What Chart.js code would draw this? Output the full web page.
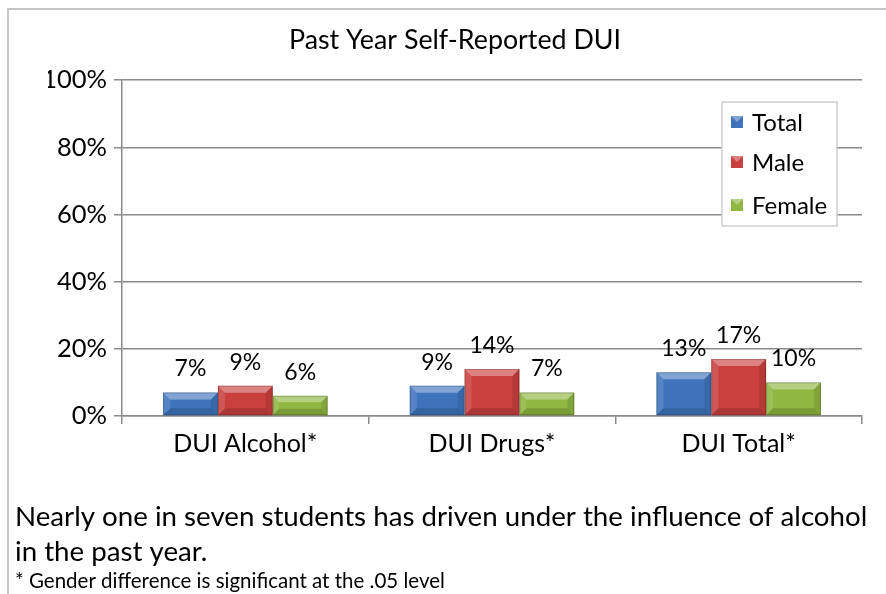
<!DOCTYPE html>
<html><head><meta charset="utf-8">
<script src="https://cdn.jsdelivr.net/npm/chart.js@4/dist/chart.umd.min.js"></script>
<style>html,body{margin:0;padding:0;background:#fff;}#wrap{width:886px;height:594px;position:relative;}</style>
</head><body><div id="wrap"><canvas id="c" width="886" height="594"></canvas></div>
<script>
const categories = ["DUI Alcohol*", "DUI Drugs*", "DUI Total*"];
const totalValues = [0.07, 0.09, 0.13];
const maleValues = [0.09, 0.14, 0.17];
const femaleValues = [0.06, 0.07, 0.10];
const seriesNames = ["Total", "Male", "Female"];
const yTicks = [0, 0.2, 0.4, 0.6, 0.8, 1.0];
const titleText = "Past Year Self-Reported DUI";
const captionLines = ["Nearly one in seven students has driven under the influence of alcohol", "in the past year."];
const footnoteText = "* Gender difference is significant at the .05 level";

const FONT = "Lato, 'Liberation Sans', sans-serif";
const colors = ["#3f74bd", "#c9403e", "#8fb741"];

const bevelPlugin = {
  id: 'bevel',
  afterDatasetsDraw(chart) {
    const ctx = chart.ctx;
    chart.data.datasets.forEach((ds, di) => {
      const meta = chart.getDatasetMeta(di);
      meta.data.forEach(el => {
        const w = el.width, l = el.x - w/2, r = el.x + w/2, t = el.y, b = el.base;
        const h = b - t; const bv = Math.min(7, h/3);
        ctx.save();
        ctx.fillStyle = 'rgba(255,255,255,0.35)';
        ctx.beginPath(); ctx.moveTo(l,t); ctx.lineTo(r,t); ctx.lineTo(r-bv,t+bv); ctx.lineTo(l+bv,t+bv); ctx.closePath(); ctx.fill();
        ctx.fillStyle = 'rgba(255,255,255,0.12)';
        ctx.beginPath(); ctx.moveTo(l,t); ctx.lineTo(l+bv,t+bv); ctx.lineTo(l+bv,b-bv); ctx.lineTo(l,b); ctx.closePath(); ctx.fill();
        ctx.fillStyle = 'rgba(0,0,0,0.10)';
        ctx.beginPath(); ctx.moveTo(r,t); ctx.lineTo(r-bv,t+bv); ctx.lineTo(r-bv,b-bv); ctx.lineTo(r,b); ctx.closePath(); ctx.fill();
        ctx.fillStyle = 'rgba(0,0,0,0.15)';
        ctx.beginPath(); ctx.moveTo(l,b); ctx.lineTo(r,b); ctx.lineTo(r-bv,b-bv); ctx.lineTo(l+bv,b-bv); ctx.closePath(); ctx.fill();
        ctx.strokeStyle = 'rgba(0,0,0,0.2)'; ctx.lineWidth = 1;
        ctx.strokeRect(l+0.5, t+0.5, w-1, h-1);
        ctx.restore();
      });
    });
  }
};

const labelPlugin = {
  id: 'valueLabels',
  afterDatasetsDraw(chart) {
    const ctx = chart.ctx;
    ctx.save();
    ctx.font = "23px " + FONT;
    ctx.fillStyle = "#000";
    ctx.textAlign = "center";
    ctx.textBaseline = "bottom";
    chart.data.datasets.forEach((ds, di) => {
      const meta = chart.getDatasetMeta(di);
      meta.data.forEach((el, i) => {
        ctx.fillText(Math.round(ds.data[i]*100) + "%", el.x, el.y - 12);
      });
    });
    ctx.restore();
  }
};

const decorPlugin = {
  id: 'decor',
  afterDraw(chart) {
    const ctx = chart.ctx;
    ctx.save();
    ctx.strokeStyle = "#b3b3b3"; ctx.lineWidth = 1.5;
    ctx.beginPath(); ctx.moveTo(8, 594); ctx.lineTo(8, 9); ctx.lineTo(886, 9); ctx.stroke();
    const lx = 722, ly = 102, lw = 115, lh = 124;
    ctx.fillStyle = "#fff"; ctx.fillRect(lx, ly, lw, lh);
    ctx.strokeStyle = "#d0d0d0"; ctx.lineWidth = 1.5; ctx.strokeRect(lx, ly, lw, lh);
    const rows = [122, 162, 205];
    ctx.font = "24px " + FONT; ctx.textBaseline = "middle"; ctx.textAlign = "left";
    chart.data.datasets.forEach((ds, i) => {
      const y = rows[i];
      ctx.fillStyle = ds.backgroundColor;
      ctx.fillRect(731, y - 6, 12, 12);
      ctx.fillStyle = 'rgba(255,255,255,0.35)';
      ctx.beginPath(); ctx.moveTo(731, y-6); ctx.lineTo(743, y-6); ctx.lineTo(737, y); ctx.closePath(); ctx.fill();
      ctx.fillStyle = "#000";
      ctx.fillText(ds.label, 752, y + 1);
    });
    ctx.font = "27.7px " + FONT; ctx.textBaseline = "middle"; ctx.fillStyle = "#000";
    ctx.fillText(captionLines[0], 15, 517);
    ctx.fillText(captionLines[1], 15, 552);
    ctx.font = "20.5px " + FONT;
    ctx.fillText(footnoteText, 15, 581);
    ctx.restore();
  }
};

new Chart(document.getElementById('c'), {
  type: 'bar',
  data: {
    labels: categories,
    datasets: [
      { label: seriesNames[0], data: totalValues, backgroundColor: colors[0] },
      { label: seriesNames[1], data: maleValues, backgroundColor: colors[1] },
      { label: seriesNames[2], data: femaleValues, backgroundColor: colors[2] }
    ]
  },
  options: {
    responsive: false,
    animation: false,
    devicePixelRatio: 1,
    layout: { padding: { left: 48, right: 24, top: 0, bottom: 128 } },
    datasets: { bar: { categoryPercentage: 0.667, barPercentage: 1.0 } },
    plugins: {
      legend: { display: false },
      tooltip: { enabled: false },
      title: { display: true, text: titleText, color: "#000", font: { family: FONT, size: 26.8, weight: 'normal' }, padding: { top: 24, bottom: 24 } }
    },
    scales: {
      x: {
        grid: { display: true, drawOnChartArea: false, drawTicks: true, tickLength: 8, color: "#8a8a8a", lineWidth: 1.5, offset: true },
        border: { display: true, color: "#8a8a8a", width: 1.5 },
        ticks: { color: "#000", font: { family: FONT, size: 25 }, padding: 5, maxRotation: 0 },
        afterFit(s) { s.height = 50; }
      },
      y: {
        min: 0, max: 1,
        afterBuildTicks(s) { s.ticks = yTicks.map(v => ({ value: v })); },
        grid: { color: "#8a8a8a", lineWidth: 1.5, tickLength: 8 },
        border: { display: true, color: "#8a8a8a", width: 1.5 },
        ticks: { color: "#000", font: { family: FONT, size: 25.5 }, padding: 7, callback: v => Math.round(v*100) + "%" },
        afterFit(s) { s.width = 74; }
      }
    }
  },
  plugins: [bevelPlugin, labelPlugin, decorPlugin]
});
</script></body></html>
